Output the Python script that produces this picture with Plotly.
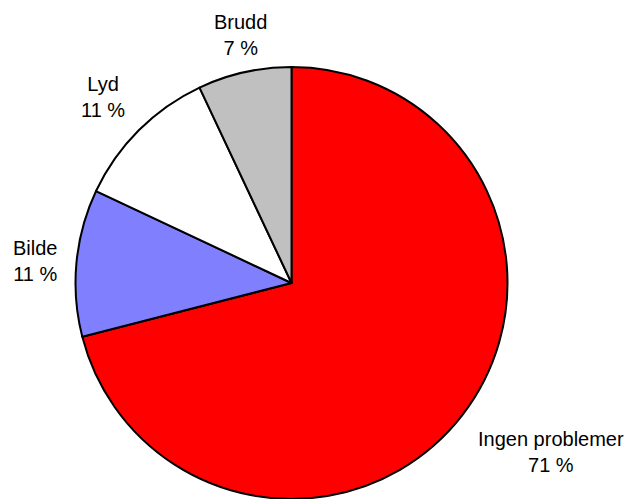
import math

import plotly.graph_objects as go

labels = ["Ingen problemer", "Bilde", "Lyd", "Brudd"]
values = [71, 11, 11, 7]
colors = ["#FF0000", "#8080FF", "#FFFFFF", "#C0C0C0"]

WIDTH, HEIGHT = 633, 499
# the page body adds an 8px margin, so work in figure coordinates
OFFSET = 8
CX, CY, RADIUS = 291.5 - OFFSET, 283 - OFFSET, 216
LABEL_R = 233

fig = go.Figure(
    go.Pie(
        labels=labels,
        values=values,
        sort=False,
        direction="clockwise",
        rotation=0,
        textinfo="none",
        hoverinfo="label+percent",
        marker={"colors": colors, "line": {"color": "#000000", "width": 2}},
        domain={
            "x": [(CX - RADIUS) / WIDTH, (CX + RADIUS) / WIDTH],
            "y": [(HEIGHT - CY - RADIUS) / HEIGHT, (HEIGHT - CY + RADIUS) / HEIGHT],
        },
    )
)

# outside labels, Excel-style: placed along each slice's mid angle
total = sum(values)
cum = 0
for label, value in zip(labels, values):
    theta = math.radians(360 * (cum + value / 2) / total)
    cum += value
    s, c = math.sin(theta), math.cos(theta)
    px = CX + LABEL_R * s
    py = CY - LABEL_R * c
    xanchor = "left" if s > 0.3 else ("right" if s < -0.3 else "center")
    yanchor = "bottom" if c > 0.3 else ("top" if c < -0.3 else "middle")
    pct = round(100 * value / total)
    fig.add_annotation(
        x=px / WIDTH,
        y=(HEIGHT - py) / HEIGHT,
        xref="paper",
        yref="paper",
        text=f"{label}<br>{pct} %",
        showarrow=False,
        xanchor=xanchor,
        yanchor=yanchor,
        # the text box has extra padding below the last line
        yshift=-5 if yanchor == "bottom" else 0,
        align="center",
        font={"family": "Liberation Sans, Arial, sans-serif", "size": 20, "color": "#000000"},
    )

fig.update_layout(
    width=WIDTH,
    height=HEIGHT,
    margin={"l": 0, "r": 0, "t": 0, "b": 0},
    paper_bgcolor="#FFFFFF",
    plot_bgcolor="#FFFFFF",
    showlegend=False,
)

fig.write_html("out.html")
